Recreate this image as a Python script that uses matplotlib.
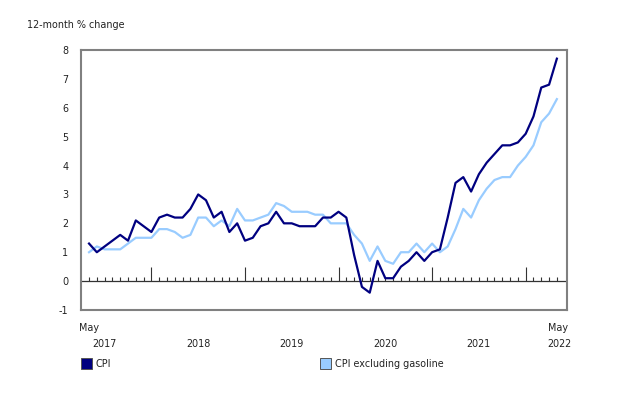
import numpy as np
import matplotlib
matplotlib.use('Agg')
import matplotlib.pyplot as plt
import matplotlib.transforms as mtransforms
from matplotlib.patches import Rectangle

# 12-month % change, May 2017 - May 2022
cpi = [1.3, 1.0, 1.2, 1.4, 1.6, 1.4, 2.1, 1.9,
       1.7, 2.2, 2.3, 2.2, 2.2, 2.5, 3.0, 2.8, 2.2, 2.4, 1.7, 2.0,
       1.4, 1.5, 1.9, 2.0, 2.4, 2.0, 2.0, 1.9, 1.9, 1.9, 2.2, 2.2,
       2.4, 2.2, 0.9, -0.2, -0.4, 0.7, 0.1, 0.1, 0.5, 0.7, 1.0, 0.7,
       1.0, 1.1, 2.2, 3.4, 3.6, 3.1, 3.7, 4.1, 4.4, 4.7, 4.7, 4.8,
       5.1, 5.7, 6.7, 6.8, 7.7]
cpi_ex_gas = [1.0, 1.2, 1.1, 1.1, 1.1, 1.3, 1.5, 1.5,
              1.5, 1.8, 1.8, 1.7, 1.5, 1.6, 2.2, 2.2, 1.9, 2.1, 1.9, 2.5,
              2.1, 2.1, 2.2, 2.3, 2.7, 2.6, 2.4, 2.4, 2.4, 2.3, 2.3, 2.0,
              2.0, 2.0, 1.6, 1.3, 0.7, 1.2, 0.7, 0.6, 1.0, 1.0, 1.3, 1.0,
              1.3, 1.0, 1.2, 1.8, 2.5, 2.2, 2.8, 3.2, 3.5, 3.6, 3.6, 4.0,
              4.3, 4.7, 5.5, 5.8, 6.3]
series_names = ['CPI', 'CPI excluding gasoline']
series_colors = ['#000080', '#99ccff']
years = ['2017', '2018', '2019', '2020', '2021', '2022']
first_month = 5  # May

months = np.arange(len(cpi))
cal_month = (months + first_month - 1) % 12 + 1

plt.rcParams['font.family'] = ['DejaVu Sans']
plt.rcParams['axes.unicode_minus'] = False
fs = 6.9
fig = plt.figure(figsize=(6.31, 3.96), dpi=100)
ax = fig.add_axes([81/631, 1 - 310/396, (567 - 81)/631, (310 - 50)/396])

ax.plot(months, cpi_ex_gas, color=series_colors[1], lw=1.6, zorder=3)
ax.plot(months, cpi, color=series_colors[0], lw=1.6, zorder=4)

ax.set_xlim(-1.03, 61.3)
ax.set_ylim(-1, 8)
ax.set_yticks(range(-1, 9))
ax.tick_params(axis='y', length=0, labelsize=fs, pad=9, colors='#222222')
ax.set_xticks([])
for s in ax.spines.values():
    s.set_color('#808080')
    s.set_linewidth(1.5)

# zero line with month ticks
ax.axhline(0, color='#333333', lw=0.9, zorder=2)
tick_h = np.where(cal_month == 1, 0.5, 0.15)
ax.vlines(months, 0, tick_h, color='#333333', lw=0.8, zorder=2)

# x labels
trans = mtransforms.blended_transform_factory(ax.transData, ax.transAxes)
ax.text(0, -0.05, 'May', transform=trans, ha='center', va='top', fontsize=fs, color='#222222')
ax.text(months[-1] + 0.1, -0.05, 'May', transform=trans, ha='center', va='top', fontsize=fs, color='#222222')
july_idx = months[cal_month == 7]
for i, y in enumerate(years[:-1]):
    ax.text(july_idx[i], -0.11, y, transform=trans, ha='center', va='top', fontsize=fs, color='#222222')
ax.text(months[-1] + 0.35, -0.11, years[-1], transform=trans, ha='center', va='top', fontsize=fs, color='#222222')

fig.text(27/631, 1 - 25/396, '12-month % change', fontsize=fs, va='center', ha='left', color='#222222')

# legend
for name, c, x0 in zip(series_names, series_colors, [81, 320]):
    fig.patches.append(Rectangle((x0/631, 1 - 369/396), 11/631, 11/396, transform=fig.transFigure,
                                 facecolor=c, edgecolor='#555555', lw=0.7))
    fig.text((x0 + 15)/631, 1 - 364/396, name, fontsize=fs, va='center', ha='left', color='#222222')

fig.savefig('out.png', dpi=100)
